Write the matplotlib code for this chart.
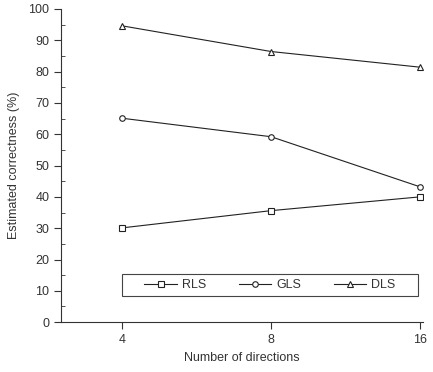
import numpy as np
import matplotlib.pyplot as plt
from matplotlib.ticker import MultipleLocator
from matplotlib.patches import Rectangle

plt.rcParams['font.family'] = ['Liberation Sans', 'DejaVu Sans']

# data
directions = ['4', '8', '16']
rls = [30.1, 35.6, 40.0]
gls = [65.1, 59.2, 43.2]
dls = [94.6, 86.4, 81.4]

fig = plt.figure(figsize=(4.33, 3.72), dpi=100)
ax = fig.add_axes([0.141, 0.134, 0.836, 0.842])

x = np.arange(len(directions))
style = dict(color='#222222', lw=0.8, mfc='white', mew=0.8)
ax.plot(x, rls, marker='s', ms=3.8, label='RLS', **style)
ax.plot(x, gls, marker='o', ms=4.0, label='GLS', **style)
ax.plot(x, dls, marker='^', ms=4.6, label='DLS', **style)

ax.set_xlim(-0.41, 2.02)
ax.set_ylim(0, 100)
ax.set_xticks(x)
ax.set_xticklabels(directions)
ax.yaxis.set_major_locator(MultipleLocator(10))
ax.yaxis.set_minor_locator(MultipleLocator(5))
ax.tick_params(axis='y', which='major', direction='out', length=5, width=0.8, labelsize=9, colors='#333333')
ax.tick_params(axis='y', which='minor', direction='in', length=3, width=0.6, color='#333333')
ax.tick_params(axis='x', direction='out', length=5, width=0.8, labelsize=9, colors='#333333')

for s in ['top', 'right']:
    ax.spines[s].set_visible(False)
for s in ['left', 'bottom']:
    ax.spines[s].set_linewidth(0.8)
    ax.spines[s].set_color('#333333')

ax.set_xlabel('Number of directions', fontsize=9, color='#333333', labelpad=4)
ax.set_ylabel('Estimated correctness (%)', fontsize=9, color='#333333', labelpad=6)

# legend box drawn separately, wider than the entries
box = Rectangle((0.168, 0.083), 0.818, 0.07, transform=ax.transAxes,
                fill=False, ec='#444444', lw=0.8)
ax.add_patch(box)
leg = ax.legend(ncol=3, loc='center', bbox_to_anchor=(0.577, 0.118),
                fontsize=9, frameon=False, handlelength=2.6,
                handletextpad=0.4, columnspacing=2.6)
for t in leg.get_texts():
    t.set_color('#333333')

fig.savefig('out.png', dpi=100)
